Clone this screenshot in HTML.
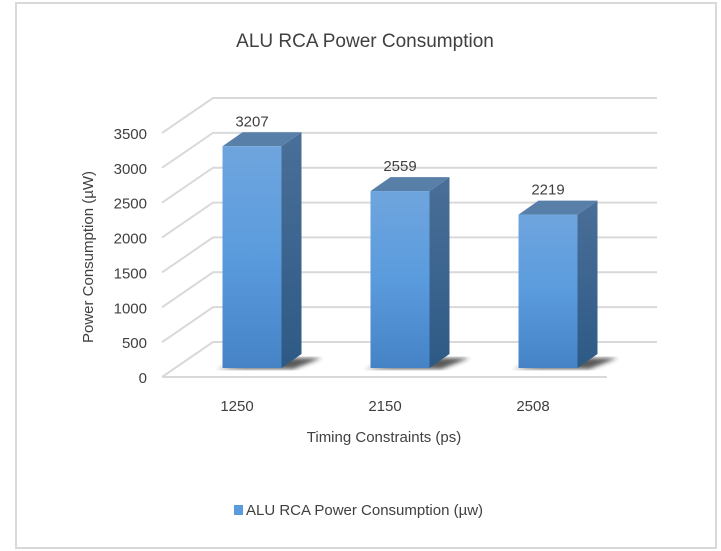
<!DOCTYPE html>
<html><head><meta charset="utf-8"><style>
html,body{margin:0;padding:0;background:#fff;}
svg{display:block;font-family:"Liberation Sans",sans-serif;}
</style></head><body>
<svg id="chart" width="721" height="551" viewBox="0 0 721 551">
<defs>
<linearGradient id="gFront" x1="0" y1="0" x2="0" y2="1"><stop offset="0" stop-color="#6fa5de"/><stop offset="0.5" stop-color="#5a9bdd"/><stop offset="1" stop-color="#4583c6"/></linearGradient>
<linearGradient id="gSide" x1="0" y1="0" x2="0" y2="1"><stop offset="0" stop-color="#4a6f98"/><stop offset="1" stop-color="#2d5a85"/></linearGradient>
<filter id="blur"><feGaussianBlur stdDeviation="2"/></filter>
</defs>
<rect x="16" y="3" width="700" height="545" fill="#fff" stroke="#d9d9d9" stroke-width="2"/>
<text x="365" y="47" text-anchor="middle" font-size="19" fill="#404040">ALU RCA Power Consumption</text>
<g id="grid"></g>
<g id="yticks"></g>
<g id="bars"></g>
<g id="xticks"></g>
<text transform="translate(93,257) rotate(-90)" text-anchor="middle" font-size="15" fill="#404040">Power Consumption (µW)</text>
<text x="384" y="442" text-anchor="middle" font-size="15" fill="#404040">Timing Constraints (ps)</text>
<g>
<rect x="234" y="505" width="9" height="10" fill="#5a9bdd"/>
<text x="246" y="515" font-size="15" fill="#404040">ALU RCA Power Consumption (µw)</text>
</g>
</svg>
<script>
const categories = ["1250", "2150", "2508"];
const values = [3207, 2559, 2219];
const yTicks = [0, 500, 1000, 1500, 2000, 2500, 3000, 3500];

const NS = "http://www.w3.org/2000/svg";
const yMax = 3500;
const frontY0 = 377, frontX0 = 162, backDX = 51, backDY = -35, backRight = 657, frontRight = 607;
const plotH = 244;
function yFront(v){ return frontY0 - v / yMax * plotH; }
const barBase = 368, barW = 59, depthX = 20, depthY = -14;
function xCenter(i){ return 252 + i * 148; }
function barScale(v){ return v / yMax * 242; }
function mk(tag, attrs, parent){ const e = document.createElementNS(NS, tag); for (const k in attrs) e.setAttribute(k, attrs[k]); parent.appendChild(e); return e; }

const grid = document.getElementById("grid");
const yt = document.getElementById("yticks");
yTicks.forEach(t => {
  const yf = yFront(t);
  const by = yf + backDY;
  const d = mk("path", {d:`M${frontX0},${yf} L${frontX0+backDX},${by} L${backRight},${by}`, fill:"none", stroke:"#d9d9d9", "stroke-width":"2"}, grid);
  
  
  const tx = mk("text", {x:147, y:yf+6, "text-anchor":"end", "font-size":"15", fill:"#404040"}, yt);
  tx.textContent = t;
  
  
});
const fl = mk("path", {d:`M${frontX0},${frontY0} L${frontRight},${frontY0}`, stroke:"#d9d9d9", "stroke-width":"2", fill:"none"}, grid);



const bars = document.getElementById("bars");
const xt = document.getElementById("xticks");
values.forEach((v, i) => {
  const cx = xCenter(i), x0 = cx - barW/2, x1 = cx + barW/2;
  const top = barBase - barScale(v);
  const g = mk("g", {}, bars);
  
  
  const sh = mk("path", {d:`M${x0-6},${barBase+1} L${x1+12},${barBase+1} L${x1+depthX+20},${barBase+depthY+4} L${x1},${barBase+depthY+4} Z`, fill:"#222", opacity:"0.75", filter:"url(#blur)"}, g);
  
  
  const side = mk("path", {d:`M${x1},${top} L${x1+depthX},${top+depthY} L${x1+depthX},${barBase+depthY} L${x1},${barBase} Z`, fill:"url(#gSide)"}, g);
  
  
  const tp = mk("path", {d:`M${x0},${top} L${x0+depthX},${top+depthY} L${x1+depthX},${top+depthY} L${x1},${top} Z`, fill:"#577fa8"}, g);
  
  
  const fr = mk("rect", {x:x0, y:top, width:barW, height:barBase-top, fill:"url(#gFront)"}, g);
  
  
  const lb = mk("text", {x:cx, y:top-20, "text-anchor":"middle", "font-size":"15", fill:"#404040"}, g);
  lb.textContent = v;
  
  
  const ct = mk("text", {x:cx-15, y:411, "text-anchor":"middle", "font-size":"15", fill:"#404040"}, xt);
  ct.textContent = categories[i];
  
  
});
</script>
</body></html>
